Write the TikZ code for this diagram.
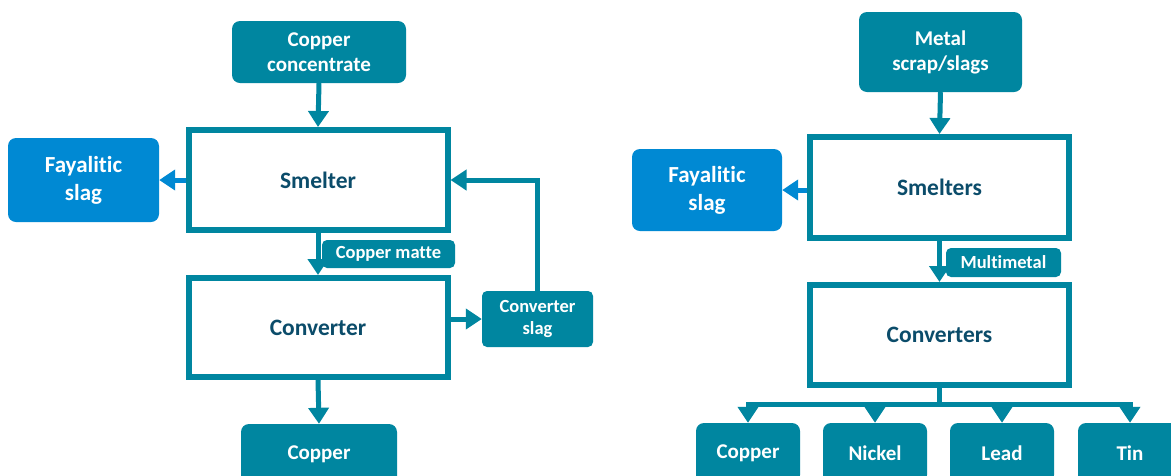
\documentclass[tikz,border=0pt]{standalone}
\usepackage{fontspec}
\setmainfont{Carlito}[Ligatures=NoCommon]
\usetikzlibrary{arrows.meta}
\definecolor{teal1}{HTML}{0086A0}
\definecolor{blue1}{HTML}{0089D3}
\definecolor{dark1}{HTML}{0B4C6A}
\tikzset{
  fillbox/.style={rectangle, rounded corners=8pt, fill=teal1, text=white, font=\fontsize{21}{25}\selectfont\bfseries, align=center, inner sep=0pt},
  slagbox/.style={fillbox, fill=blue1, font=\fontsize{23}{28}\selectfont\bfseries},
  smallbox/.style={fillbox, rounded corners=5pt, font=\fontsize{18.5}{22}\selectfont\bfseries},
  procbox/.style={rectangle, draw=teal1, line width=6pt, fill=white, text=dark1, font=\fontsize{23.5}{28}\selectfont\bfseries, minimum width=259pt, minimum height=100pt, inner sep=0pt},
  arr/.style={draw=teal1, line width=5pt, -{Triangle[length=16pt,width=20pt]}},
  arrb/.style={draw=blue1, line width=5pt, -{Triangle[length=16pt,width=20pt]}},
  plain/.style={draw=teal1, line width=5pt}
}
\begin{document}
\begin{tikzpicture}[x=1pt,y=-1pt]
\clip (0,0) rectangle (1171,475);
\fill[white] (0,0) rectangle (1171,475);
% ---------- left ----------
\node[fillbox, minimum width=174pt, minimum height=62pt] (cc) at (319,52) {Copper\\concentrate};
\node[procbox] (smelter) at (318,180) {Smelter};
\node[slagbox, minimum width=151pt, minimum height=84pt] (fay1) at (83.5,180) {Fayalitic\\slag};
\node[procbox, minimum height=99pt] (conv) at (318,327.5) {Converter};
\node[smallbox, minimum width=111pt, minimum height=56pt] (cslag) at (537.5,319) {Converter\\slag};
\node[fillbox, minimum width=156pt, minimum height=60pt] (cu1) at (319,454) {Copper};
\draw[arr] (cc.south) -- (smelter.north);
\draw[arrb] (smelter.west) -- (fay1.east);
\draw[arr] (smelter.south) -- (conv.north);
\draw[arr] (cslag.west -| conv.east) -- (cslag.west);
\draw[arr] (cslag.north) |- (smelter.east);
\draw[arr] (conv.south) -- (cu1.north);
\node[smallbox, minimum width=133pt, minimum height=28pt] (matte) at (388.5,254) {Copper matte};
% ---------- right ----------
\node[fillbox, minimum width=163pt, minimum height=80pt] (ms) at (940.5,52) {Metal\\scrap/slags};
\node[procbox, minimum height=101pt] (smelters) at (939.5,187.5) {Smelters};
\node[slagbox, minimum width=150pt, minimum height=82pt] (fay2) at (707,190) {Fayalitic\\slag};
\node[procbox] (convs) at (939.5,335) {Converters};
\node[fillbox, minimum width=104pt, minimum height=60pt] (b1) at (748,453) {Copper};
\node[fillbox, minimum width=104pt, minimum height=60pt] (b2) at (875,453) {Nickel};
\node[fillbox, minimum width=104pt, minimum height=60pt] (b3) at (1002,453) {Lead};
\node[fillbox, minimum width=104pt, minimum height=60pt] (b4) at (1130,453) {Tin};
\draw[arr] (ms.south) -- (smelters.north);
\draw[arrb] (fay2.east -| smelters.west) -- (fay2.east);
\draw[arr] (smelters.south) -- (convs.north);
\coordinate (hub) at (939.5,404);
\draw[plain] (convs.south) -- (hub);
\foreach \b in {b1,b2,b3,b4} \draw[arr, line join=miter] (hub) -| (\b.north);
\node[smallbox, minimum width=115pt, minimum height=29pt] (multi) at (1003.5,262.5) {Multimetal};
\end{tikzpicture}
\end{document}
